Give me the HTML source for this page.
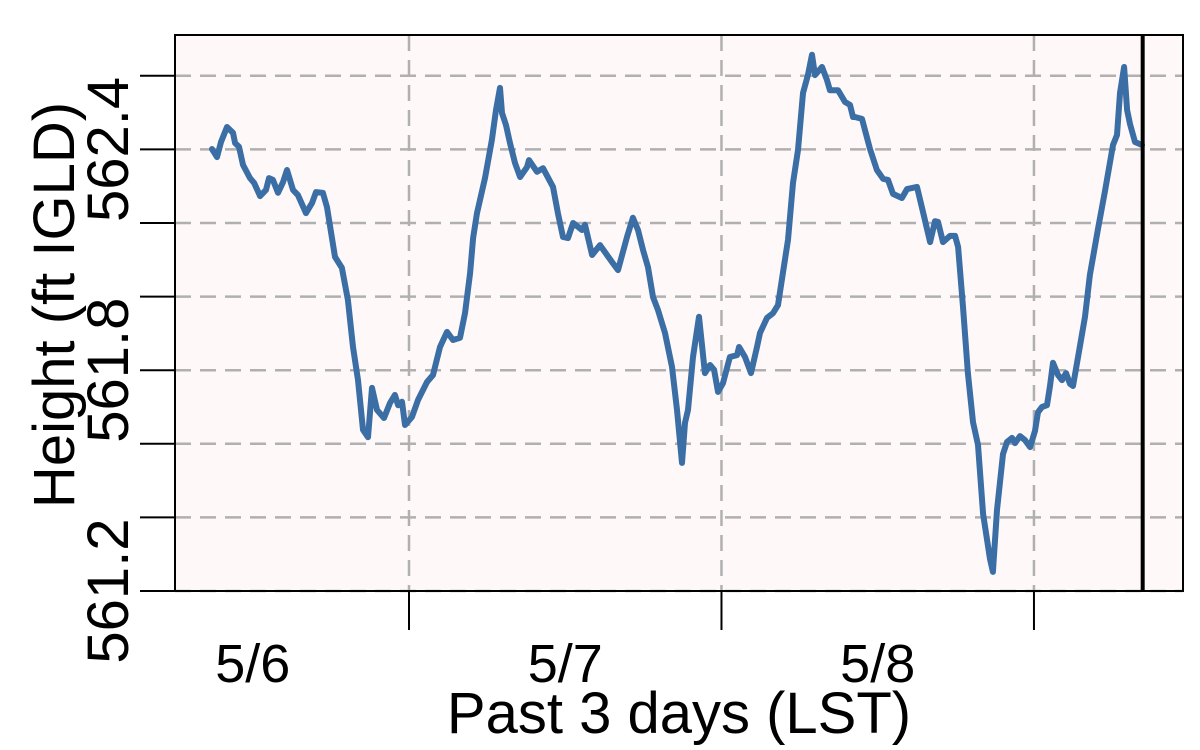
<!DOCTYPE html>
<html><head><meta charset="utf-8"><style>
html,body{margin:0;padding:0;background:#fff;}
svg{display:block;font-family:"Liberation Sans",Arial,sans-serif;}
</style></head><body>
<svg id="chart" width="1200" height="750" viewBox="0 0 1200 750" xmlns="http://www.w3.org/2000/svg">
<rect x="175" y="35" width="1008" height="556" fill="#fff8f8"/>
<g id="grid"></g>
<g id="axes"></g>
<path id="series" fill="none" stroke="#3a6ea5" stroke-width="6" stroke-linejoin="round" stroke-linecap="round"/>
<line id="nowline" stroke="#000" stroke-width="4"/>
<rect x="175" y="35" width="1008" height="556" fill="none" stroke="#000" stroke-width="2"/>
<text x="679" y="733" font-size="58" text-anchor="middle">Past 3 days (LST)</text>
<text transform="translate(74,305) rotate(-90)" font-size="58" text-anchor="middle">Height (ft IGLD)</text>
</svg>
<script>
const hours = [8.87,9.25,9.56,10.02,10.48,10.64,10.94,11.25,11.79,12.10,12.56,13.02,13.25,13.55,13.94,14.32,14.63,15.09,15.47,16.09,16.55,16.86,17.39,17.70,18.32,18.85,19.31,19.70,20.08,20.47,20.85,21.16,21.54,22.08,22.54,22.92,23.16,23.46,23.69,24.23,24.69,25.38,25.84,26.38,26.92,27.38,27.92,28.30,28.69,28.92,29.22,29.84,30.37,30.68,30.99,31.14,31.45,31.76,32.14,32.53,33.06,33.22,33.83,34.29,35.06,35.44,35.83,36.21,36.60,37.29,37.52,38.06,38.67,39.21,39.59,40.05,40.74,41.20,41.59,41.97,42.36,42.74,43.12,43.66,44.20,44.58,44.97,45.20,45.43,45.81,46.27,46.50,46.73,47.12,47.43,47.73,48.12,48.65,49.19,49.35,49.81,50.27,50.73,50.96,51.50,51.96,52.34,52.72,53.11,53.49,53.88,54.26,54.64,54.95,55.18,55.72,56.10,56.33,56.95,57.49,57.87,58.10,58.25,58.79,59.41,59.94,60.41,60.79,61.17,61.86,62.25,63.02,63.48,64.02,64.40,64.63,65.01,65.55,65.94,66.17,66.55,66.93,67.32,67.70,68.09,68.62,68.85,69.16,69.62,69.93,70.31,70.54,70.93,71.31,71.70,72.08,72.31,72.62,73.00,73.23,73.46,73.85,74.15,74.46,74.77,75.00,75.54,75.92,76.30,76.92,77.46,78.07,78.38,78.61,78.92,79.15,79.38,79.76,80.30];
const heights = [562.401,562.379,562.420,562.461,562.445,562.417,562.407,562.358,562.322,562.309,562.273,562.290,562.322,562.317,562.282,562.311,562.344,562.290,562.276,562.227,562.254,562.284,562.282,562.243,562.108,562.078,561.991,561.863,561.773,561.638,561.618,561.752,561.692,561.670,561.711,561.733,561.705,561.714,561.651,561.673,561.719,561.768,561.787,561.863,561.904,561.882,561.888,561.955,562.064,562.159,562.227,562.322,562.426,562.507,562.567,562.499,562.466,562.417,562.363,562.325,562.352,562.371,562.339,562.349,562.298,562.227,562.162,562.159,562.200,562.181,562.195,562.113,562.140,562.113,562.094,562.072,562.162,562.214,562.181,562.127,562.080,561.999,561.964,561.901,561.809,561.692,561.548,561.657,561.692,561.836,561.945,561.868,561.792,561.814,561.801,561.741,561.765,561.836,561.841,561.863,561.836,561.792,561.863,561.901,561.942,561.955,561.977,562.064,562.154,562.309,562.398,562.553,562.602,562.657,562.602,562.624,562.589,562.561,562.561,562.529,562.521,562.488,562.488,562.483,562.401,562.344,562.320,562.317,562.279,562.268,562.292,562.298,562.230,562.148,562.205,562.203,562.148,562.165,562.165,562.135,561.972,561.792,561.659,561.597,561.409,561.287,561.252,561.420,561.572,561.605,561.616,561.602,561.621,561.610,561.591,561.635,561.686,561.700,561.705,561.757,561.820,561.787,561.773,561.792,561.763,561.757,561.868,561.945,562.059,562.184,562.287,562.412,562.439,562.553,562.624,562.507,562.469,562.420,562.412];
const yGrid = [561.2,561.4,561.6,561.8,562.0,562.2,562.4,562.6];
const yTickLabels = ["561.2","561.8","562.4"];
const dayTicks = [24,48,72];
const dayLabelHours = [12,36,60];
const dayLabels = ["5/6","5/7","5/8"];
const nowHour = 80.35;

const X = h => 409 + (h-24)*13.02;
const Y = v => 591 - (v-561.2)*368;
const NS = "http://www.w3.org/2000/svg";
const grid = document.getElementById('grid');
const axes = document.getElementById('axes');
function mk(tag, attrs, parent){const e=document.createElementNS(NS,tag);for(const k in attrs)e.setAttribute(k,attrs[k]);parent.appendChild(e);return e;}

yGrid.forEach(v=>{
  const g = mk('line',{x1:175,x2:1183,y1:Y(v),y2:Y(v),stroke:'#b0b0b0','stroke-width':2.5,'stroke-dasharray':'16 9'},grid);
  
  
  const t = mk('line',{x1:140,x2:175,y1:Y(v),y2:Y(v),stroke:'#000','stroke-width':2},axes);
  
  
});
yTickLabels.forEach(s=>{
  const v = parseFloat(s);
  const t = mk('text',{transform:`translate(128,${Y(v)}) rotate(-90)`,'font-size':58,'text-anchor':'middle'},axes);
  t.textContent = s;
  
  
});
dayTicks.forEach(h=>{
  const g = mk('line',{x1:X(h),x2:X(h),y1:35,y2:591,stroke:'#b0b0b0','stroke-width':2.5,'stroke-dasharray':'16 9'},grid);
  
  
  const t = mk('line',{x1:X(h),x2:X(h),y1:591,y2:630,stroke:'#000','stroke-width':2},axes);
  
  
});
dayLabels.forEach((s,i)=>{
  const t = mk('text',{x:X(dayLabelHours[i]),y:682,'font-size':54,'text-anchor':'middle'},axes);
  t.textContent = s;
  
  
});
document.getElementById('series').setAttribute('d', hours.map((h,i)=>(i?'L':'M')+X(h).toFixed(1)+','+Y(heights[i]).toFixed(1)).join(''));
const now = document.getElementById('nowline');
now.setAttribute('x1',X(nowHour));now.setAttribute('x2',X(nowHour));
now.setAttribute('y1',35);now.setAttribute('y2',591);
</script>
</body></html>
